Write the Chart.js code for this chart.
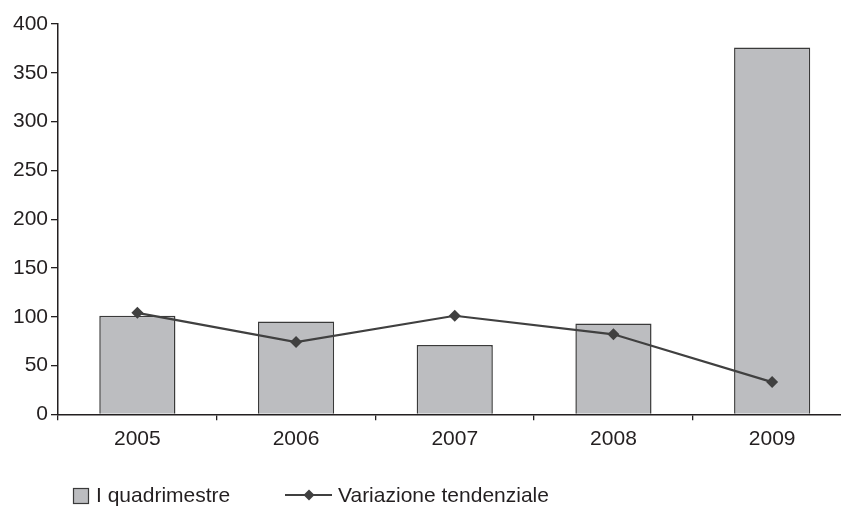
<!DOCTYPE html>
<html>
<head>
<meta charset="utf-8">
<script src="https://cdn.jsdelivr.net/npm/chart.js@4.4.1/dist/chart.umd.min.js"></script>
<style>
  html, body { margin: 0; padding: 0; background: #fff; overflow: hidden; }
  #wrap { position: relative; width: 870px; height: 508px; }
</style>
</head>
<body>
<div id="wrap"><canvas id="chart" width="870" height="508"></canvas></div>
<script>
// Anni di riferimento
const years = ['2005', '2006', '2007', '2008', '2009'];
// Valori del I quadrimestre (barre)
const quadrimestre = [101, 95, 71, 93, 376];
// Variazione tendenziale (linea)
const variazione = [104, 74, 101, 82, 33];
// Etichette delle serie
const seriesLabels = ['I quadrimestre', 'Variazione tendenziale'];

const FONT = '"Liberation Sans", Arial, Helvetica, sans-serif';
const TEXT = '#231f20';
const AXIS = '#231f20';
const BAR_FILL = '#bcbdc0';
const BAR_EDGE = '#3a3a3a';
const LINE = '#404040';

// Legenda disegnata sotto il grafico, con gli stili delle serie
const bottomLegend = {
  id: 'bottomLegend',
  afterDraw(chart) {
    const ctx = chart.ctx;
    const ds = chart.data.datasets;
    ctx.save();
    ctx.font = '21px ' + FONT;
    ctx.textBaseline = 'middle';
    // voce barre
    ctx.fillStyle = ds[0].backgroundColor;
    ctx.fillRect(73.5, 488.5, 15, 15);
    ctx.strokeStyle = ds[0].borderColor;
    ctx.lineWidth = 1.2;
    ctx.strokeRect(73.5, 488.5, 15, 15);
    ctx.fillStyle = TEXT;
    ctx.fillText(ds[0].label, 96, 496);
    // voce linea
    ctx.strokeStyle = ds[1].borderColor;
    ctx.lineWidth = 2;
    ctx.beginPath();
    ctx.moveTo(285, 495);
    ctx.lineTo(332, 495);
    ctx.stroke();
    ctx.fillStyle = ds[1].pointBackgroundColor;
    ctx.beginPath();
    ctx.moveTo(309, 489.5);
    ctx.lineTo(314.5, 495);
    ctx.lineTo(309, 500.5);
    ctx.lineTo(303.5, 495);
    ctx.closePath();
    ctx.fill();
    ctx.fillStyle = TEXT;
    ctx.fillText(ds[1].label, 338, 496);
    ctx.restore();
  }
};

new Chart(document.getElementById('chart'), {
  data: {
    labels: years,
    datasets: [
      {
        type: 'bar',
        label: seriesLabels[0],
        data: quadrimestre,
        backgroundColor: BAR_FILL,
        borderColor: BAR_EDGE,
        borderWidth: 1.5,
        borderSkipped: 'bottom',
        categoryPercentage: 1,
        barPercentage: 0.48,
        order: 2
      },
      {
        type: 'line',
        label: seriesLabels[1],
        data: variazione,
        borderColor: LINE,
        borderWidth: 2.2,
        pointStyle: 'rectRot',
        pointRadius: 6,
        pointBackgroundColor: LINE,
        pointBorderColor: LINE,
        pointBorderWidth: 0,
        tension: 0,
        fill: false,
        order: 1
      }
    ]
  },
  options: {
    responsive: false,
    animation: false,
    events: [],
    layout: { padding: { left: 0, top: 24, right: 18.5, bottom: 0 } },
    plugins: {
      legend: { display: false },
      tooltip: { enabled: false }
    },
    scales: {
      x: {
        type: 'category',
        offset: true,
        grid: {
          offset: true,
          display: true,
          drawOnChartArea: false,
          drawTicks: true,
          tickLength: 6,
          color: AXIS,
          lineWidth: 1.3
        },
        border: { display: true, color: AXIS, width: 1.5 },
        ticks: {
          color: TEXT,
          font: { family: FONT, size: 21 },
          padding: 6,
          maxRotation: 0
        },
        afterFit(scale) { scale.height = 93.7; }
      },
      y: {
        min: 0,
        max: 400,
        grid: {
          display: true,
          drawOnChartArea: false,
          drawTicks: true,
          tickLength: 7,
          color: AXIS,
          lineWidth: 1.3
        },
        border: { display: true, color: AXIS, width: 1.5 },
        ticks: {
          stepSize: 50,
          color: TEXT,
          font: { family: FONT, size: 21 },
          padding: 3
        },
        afterFit(scale) { scale.width = 58; }
      }
    }
  },
  plugins: [bottomLegend]
});
</script>
</body>
</html>
